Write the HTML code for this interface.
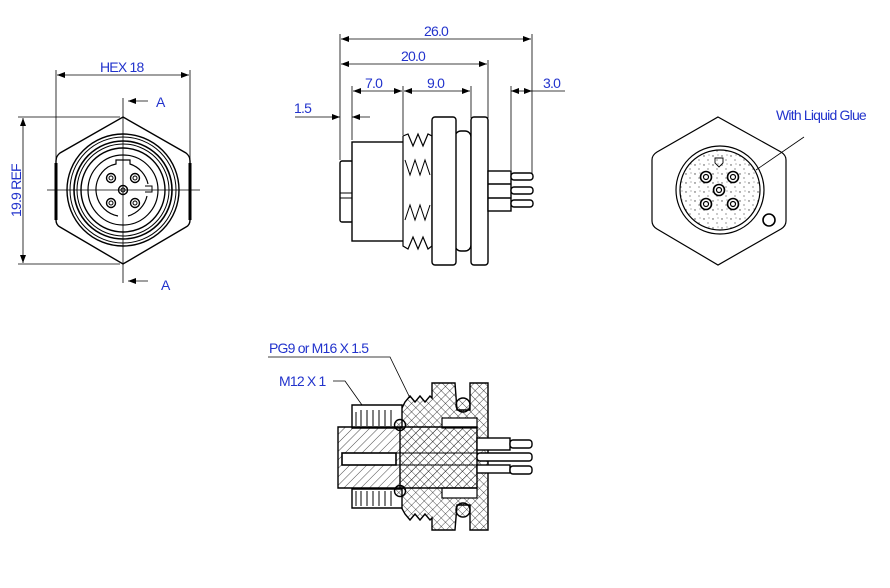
<!DOCTYPE html>
<html><head><meta charset="utf-8"><style>
html,body{margin:0;padding:0;background:#fff;}
svg{display:block;}
text{font-family:"Liberation Sans",sans-serif;fill:#2233cc;font-size:14px;letter-spacing:-0.8px;}
</style></head><body>
<svg width="890" height="588" viewBox="0 0 890 588" xmlns="http://www.w3.org/2000/svg">
<defs>
<pattern id="h1" width="6" height="6" patternUnits="userSpaceOnUse" patternTransform="rotate(45)">
<line x1="0" y1="0" x2="0" y2="6" stroke="#000" stroke-width="0.7"/></pattern>
<pattern id="hx" width="6" height="6" patternUnits="userSpaceOnUse" patternTransform="rotate(45)">
<line x1="0" y1="0" x2="0" y2="6" stroke="#000" stroke-width="0.7"/><line x1="0" y1="0" x2="6" y2="0" stroke="#000" stroke-width="0.7"/></pattern>
<pattern id="dots" width="9" height="9" patternUnits="userSpaceOnUse">
<circle cx="2" cy="3" r="0.7" fill="#444"/><circle cx="6" cy="7" r="0.6" fill="#444"/><circle cx="7" cy="2" r="0.5" fill="#444"/></pattern>
<marker id="ar" markerWidth="8" markerHeight="6" refX="8" refY="3" orient="auto-start-reverse" markerUnits="userSpaceOnUse">
<path d="M0,0 L8,3 L0,6 z" fill="#000"/></marker>
</defs>

<!-- ===== FRONT VIEW ===== -->
<g fill="none" stroke="#000" stroke-width="1">
<path d="M123,117 L186,153 Q190,156 190,161 L190,220 Q190,225 186,227 L123,264 L60,227 Q56,225 56,220 L56,161 Q56,156 60,153 Z" stroke-width="1.4"/>
<line x1="56" y1="163" x2="56" y2="220" stroke-width="3"/>
<line x1="190" y1="163" x2="190" y2="220" stroke-width="3"/>
<circle cx="123" cy="190" r="56" stroke-width="1.4"/>
<circle cx="123" cy="190" r="53"/>
<circle cx="123" cy="190" r="49" stroke-width="1.6"/>
<circle cx="123" cy="190" r="46"/>
<circle cx="123" cy="190" r="42" stroke-width="1.4"/>
<circle cx="123" cy="190" r="35" stroke-width="1.2"/>
<path d="M108,167 A27,27 0 0 0 118,216 M128,216 A27,27 0 0 0 147,196 M148,184 A27,27 0 0 0 130,164 L130,160 L116,160 L116,164 A27,27 0 0 0 108,167" stroke-width="1.2"/>
<path d="M145,192 L152,192 L152,186 L145,186"/>
<circle cx="111" cy="178" r="4.5" stroke-width="1.4"/><circle cx="111" cy="178" r="2"/>
<circle cx="135" cy="178" r="4.5" stroke-width="1.4"/><circle cx="135" cy="178" r="2"/>
<circle cx="111" cy="203" r="4.5" stroke-width="1.4"/><circle cx="111" cy="203" r="2"/>
<circle cx="135" cy="203" r="4.5" stroke-width="1.4"/><circle cx="135" cy="203" r="2"/>
<circle cx="123" cy="190" r="4.5" stroke-width="1.4"/><circle cx="123" cy="190" r="2"/>
</g>
<g stroke="#000" stroke-width="0.8" fill="none">
<line x1="47" y1="190" x2="200" y2="190"/>
<line x1="123" y1="98" x2="123" y2="283"/>
<line x1="128" y1="101" x2="148" y2="101" marker-start="url(#ar)"/>
<line x1="128" y1="281" x2="148" y2="281" marker-start="url(#ar)"/>
<line x1="56" y1="70" x2="56" y2="160"/>
<line x1="190" y1="70" x2="190" y2="160"/>
<line x1="57" y1="75" x2="189" y2="75" marker-start="url(#ar)" marker-end="url(#ar)"/>
<line x1="18" y1="117" x2="120" y2="117"/>
<line x1="18" y1="264" x2="120" y2="264"/>
<line x1="23" y1="118" x2="23" y2="263" marker-start="url(#ar)" marker-end="url(#ar)"/>
</g>
<text x="100" y="72">HEX 18</text>
<text x="156" y="107">A</text>
<text x="161" y="290">A</text>
<text transform="translate(21,217) rotate(-90)">19.9 REF</text>

<!-- ===== SIDE VIEW ===== -->
<g stroke="#000" stroke-width="0.8" fill="none">
<line x1="340" y1="34" x2="340" y2="160"/>
<line x1="352" y1="86" x2="352" y2="140"/>
<line x1="403" y1="86" x2="403" y2="135"/>
<line x1="471" y1="86" x2="471" y2="118"/>
<line x1="488" y1="60" x2="488" y2="118"/>
<line x1="511" y1="86" x2="511" y2="170"/>
<line x1="532" y1="34" x2="532" y2="175"/>
<line x1="341" y1="39" x2="531" y2="39" marker-start="url(#ar)" marker-end="url(#ar)"/>
<line x1="341" y1="64" x2="487" y2="64" marker-start="url(#ar)" marker-end="url(#ar)"/>
<line x1="353" y1="91" x2="402" y2="91" marker-start="url(#ar)" marker-end="url(#ar)"/>
<line x1="404" y1="91" x2="470" y2="91" marker-start="url(#ar)" marker-end="url(#ar)"/>
<line x1="511" y1="91" x2="522" y2="91" marker-start="url(#ar)"/>
<line x1="522" y1="91" x2="532" y2="91" marker-end="url(#ar)"/>
<line x1="532" y1="91" x2="565" y2="91"/>
<line x1="295" y1="117" x2="340" y2="117" marker-end="url(#ar)"/>
<line x1="352" y1="117" x2="370" y2="117" marker-start="url(#ar)"/>
</g>
<text x="424" y="36">26.0</text>
<text x="401" y="61">20.0</text>
<text x="365" y="88">7.0</text>
<text x="427" y="88">9.0</text>
<text x="543" y="88">3.0</text>
<text x="294" y="113">1.5</text>
<g fill="#fff" stroke="#000" stroke-width="1.4">
<rect x="340" y="161" width="13" height="61" rx="2"/>
<line x1="340" y1="193" x2="353" y2="193" stroke-width="1"/>
<line x1="340" y1="198" x2="353" y2="198" stroke-width="1"/>
<rect x="352" y="142" width="52" height="99"/>
<path d="M403,136 L408,134 L413,146 L418,134 L423,146 L428,134 L432,136 L432,246 L428,249 L423,237 L418,249 L413,237 L408,249 L403,246 Z" stroke-width="1.2"/>
<path d="M405,160 L410,175 L415,160 L420,175 L425,160 L430,175 M405,220 L410,205 L415,220 L420,205 L425,220 L430,205" fill="none" stroke-width="1"/>
<rect x="455" y="131" width="16" height="120" rx="6"/>
<rect x="432" y="117" width="24" height="148" rx="3"/>
<rect x="471" y="117" width="17" height="148" rx="3"/>
<rect x="488" y="171" width="23" height="40"/>
<line x1="488" y1="184" x2="511" y2="184" stroke-width="1.4"/>
<line x1="488" y1="198" x2="511" y2="198" stroke-width="1.4"/>
<rect x="511" y="173" width="22" height="7" rx="3"/>
<rect x="511" y="187" width="22" height="7" rx="3"/>
<rect x="511" y="200" width="22" height="7" rx="3"/>
</g>

<!-- ===== REAR VIEW ===== -->
<g fill="none" stroke="#000" stroke-width="1.2">
<path d="M718,117 L781,152 Q786,155 786,160 L786,221 Q786,226 781,229 L718,265 L657,229 Q652,226 652,221 L652,160 Q652,155 657,152 Z"/>
<circle cx="720" cy="190" r="44"/>
<circle cx="720" cy="190" r="40" fill="url(#dots)"/>
<circle cx="706" cy="177" r="5.5" fill="#fff" stroke-width="1.6"/><circle cx="706" cy="177" r="2.5"/>
<circle cx="733" cy="177" r="5.5" fill="#fff" stroke-width="1.6"/><circle cx="733" cy="177" r="2.5"/>
<circle cx="719" cy="190" r="5.5" fill="#fff" stroke-width="1.6"/><circle cx="719" cy="190" r="2.5"/>
<circle cx="706" cy="204" r="5.5" fill="#fff" stroke-width="1.6"/><circle cx="706" cy="204" r="2.5"/>
<circle cx="733" cy="204" r="5.5" fill="#fff" stroke-width="1.6"/><circle cx="733" cy="204" r="2.5"/>
<path d="M715,163 L715,158 L723,158 L723,163 L719,167 Z" stroke-width="0.9"/>
<circle cx="769" cy="220" r="6" stroke-width="1.6"/>
<line x1="756" y1="170" x2="804" y2="137" stroke-width="0.8"/>
</g>
<text x="776" y="120">With Liquid Glue</text>

<!-- ===== SECTION VIEW ===== -->
<g stroke="#000" stroke-width="1.4">
<!-- cross-hatched housing -->
<path d="M400,412 L405,402 L410,396 L415,402 L420,396 L425,402 L430,396 L432,398 L432,383 L455,383 L457,410 L470,410 L470,383 L488,383 L488,530 L470,530 L470,505 L457,505 L455,530 L432,530 L432,518 L430,520 L425,514 L420,520 L415,514 L410,520 L405,514 L400,505 Z" fill="url(#hx)"/>
<!-- M12 sleeve -->
<path d="M352,405 L402,405 L402,428 L352,428 Z" fill="#fff"/>
<path d="M352,489 L402,489 L402,508 L352,508 Z" fill="#fff"/>
<path d="M356,412 L356,426 M361,410 L361,426 M367,410 L367,426 M373,410 L373,426 M379,410 L379,426 M385,410 L385,426 M391,410 L391,426 M356,491 L356,506 M361,491 L361,506 M367,491 L367,506 M373,491 L373,506 M379,491 L379,506 M385,491 L385,506 M391,491 L391,506" stroke-width="1" fill="none"/>
<!-- internal thread cavities -->
<rect x="442" y="418" width="35" height="10" fill="#fff" stroke-width="1.2"/>
<rect x="442" y="488" width="35" height="10" fill="#fff" stroke-width="1.2"/>
<!-- core -->
<path d="M338,427 L477,427 L477,488 L338,488 Z" fill="url(#h1)"/>
<rect x="342" y="453" width="54" height="12" fill="#fff" stroke-width="1.6"/>
<line x1="396" y1="453" x2="477" y2="453" stroke-width="1"/>
<line x1="396" y1="465" x2="477" y2="465" stroke-width="1"/>
<!-- pins -->
<rect x="477" y="438" width="33" height="12" fill="#fff"/>
<rect x="510" y="440" width="22" height="8" rx="3" fill="#fff"/>
<rect x="477" y="453" width="55" height="8" rx="3" fill="#fff"/>
<rect x="477" y="465" width="33" height="8" fill="#fff"/>
<rect x="510" y="466" width="22" height="8" rx="3" fill="#fff"/>
<!-- balls -->
<circle cx="463" cy="405" r="7" fill="url(#hx)"/>
<circle cx="463" cy="510" r="7" fill="url(#hx)"/>
<circle cx="400" cy="425" r="5.5" fill="url(#hx)"/>
<circle cx="400" cy="491" r="5.5" fill="url(#hx)"/>
</g>
<g stroke="#000" stroke-width="0.8" fill="none">
<polyline points="268,357 390,357 410,398"/>
<polyline points="333,381 345,381 362,405"/>
</g>
<text x="269" y="353">PG9 or M16 X 1.5</text>
<text x="279" y="386">M12 X 1</text>
</svg>
</body></html>
